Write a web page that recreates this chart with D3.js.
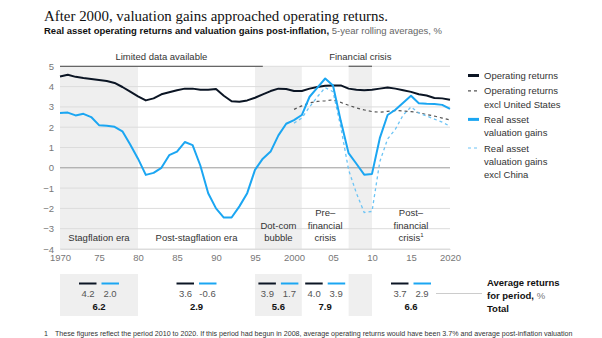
<!DOCTYPE html>
<html><head><meta charset="utf-8">
<script src="https://cdn.jsdelivr.net/npm/d3@7"></script>
<style>
body{margin:0;background:#fff;}
svg{display:block;font-family:"Liberation Sans",Arial,sans-serif;}
</style></head>
<body><svg id="c" width="602" height="338"></svg>
<script>
const years = d3.range(1970, 2021);
const operating = [4.5,4.58,4.48,4.42,4.38,4.33,4.28,4.18,3.98,3.75,3.52,3.32,3.42,3.62,3.72,3.82,3.9,3.9,3.85,3.84,3.88,3.55,3.28,3.25,3.32,3.45,3.62,3.78,3.9,3.88,3.78,3.78,3.9,3.98,4.04,4.05,4.06,3.9,3.85,3.82,3.84,3.9,3.96,3.9,3.82,3.74,3.62,3.56,3.44,3.42,3.35];
const valuation = [2.7,2.72,2.58,2.66,2.5,2.1,2.07,2.02,1.8,1.15,0.45,-0.35,-0.25,0.0,0.62,0.8,1.27,1.12,0.1,-1.25,-2.0,-2.45,-2.45,-1.9,-1.25,-0.1,0.45,0.8,1.6,2.17,2.35,2.6,3.5,3.95,4.4,4.05,2.3,0.72,0.2,-0.34,-0.3,1.46,2.6,2.86,3.2,3.55,3.18,3.15,3.14,3.1,2.9];
const yearsEx = d3.range(2000, 2021);
const operatingExUS = [2.88,3.05,3.2,3.27,3.3,3.35,3.22,3.08,2.95,2.85,2.77,2.74,2.78,2.82,2.8,2.77,2.72,2.62,2.55,2.45,2.36];
const valuationExChina = [2.2,2.45,3.0,3.5,3.95,3.75,2.0,-0.1,-1.25,-2.2,-2.15,0.3,1.42,1.9,2.6,3.0,2.7,2.55,2.4,2.25,2.05];

const xTicks = [1970,1975,1980,1985,1990,1995,2000,2005,2010,2015,2020];
const xTickLabels = ["1970","75","80","85","90","95","2000","05","10","15","2020"];
const yTicks = [5,4,3,2,1,0,-1,-2,-3,-4];

const bands = [[1970,1980],[1995,2001],[2007,2010]];
const brackets = [{label:"Limited data available", from:1970, to:1996},{label:"Financial crisis", from:2007, to:2010}];
const eras = [
  {lines:["Stagflation era"], from:1970, to:1980},
  {lines:["Post-stagflation era"], from:1980, to:1995},
  {lines:["Dot-com","bubble"], from:1995, to:2001},
  {lines:["Pre–","financial","crisis"], from:2001, to:2007},
  {lines:["Post–","financial","crisis"], from:2010, to:2020, sup:"1"}
];
const periodOperating = ["4.2","3.6","3.9","4.0","3.7"];
const periodValuation = ["2.0","-0.6","1.7","3.9","2.9"];
const periodTotal = ["6.2","2.9","5.6","7.9","6.6"];

const legendItems = [
  {lines:["Operating returns"], color:"#0b1524", w:3, dash:null},
  {lines:["Operating returns","excl United States"], color:"#555", w:1.2, dash:"3,3"},
  {lines:["Real asset","valuation gains"], color:"#1ba6f2", w:3, dash:null},
  {lines:["Real asset","valuation gains","excl China"], color:"#6cc4f5", w:1.2, dash:"3,3"}
];

const svg = d3.select("#c");
const x = d3.scaleLinear().domain([1970,2020]).range([60,450]);
const y = d3.scaleLinear().domain([-4,5]).range([249,66.3]);

// title
svg.append("text").attr("x",44).attr("y",20.5).attr("font-family","'Liberation Serif','Times New Roman',serif")
  .attr("font-size",14.9).attr("fill","#111").text("After 2000, valuation gains approached operating returns.");
const sub = svg.append("text").attr("x",44).attr("y",34).attr("font-size",9.5).attr("fill","#111");
sub.append("tspan").attr("font-weight","bold").text("Real asset operating returns and valuation gains post-inflation, ");
sub.append("tspan").attr("fill","#666").text("5-year rolling averages, %");

// bands
svg.append("g").selectAll("rect").data(bands).join("rect")
  .attr("x",d=>x(d[0])).attr("width",d=>x(d[1])-x(d[0]))
  .attr("y",y(5)).attr("height",y(-4)-y(5)).attr("fill","#efefef");

// grid
svg.append("g").selectAll("line").data(yTicks).join("line")
  .attr("x1",60).attr("x2",450).attr("y1",d=>y(d)).attr("y2",d=>y(d))
  .attr("stroke",d=>d===0?"#9a9a9a":"#dcdcdc").attr("stroke-width",1);

// y axis labels
const yAxis = d3.axisLeft(y).tickValues(yTicks).tickSize(0).tickPadding(6);
const ya = svg.append("g").attr("transform","translate(60,0)").call(yAxis);
ya.select(".domain").remove();
ya.selectAll("text").attr("font-size",9.5).attr("fill","#777").attr("font-family","'Liberation Sans',Arial,sans-serif");

// x axis
const xAxis = d3.axisBottom(x).tickValues(xTicks).tickFormat((d,i)=>xTickLabels[i]).tickSize(0).tickPadding(5);
const xa = svg.append("g").attr("transform",`translate(0,${y(-4)})`).call(xAxis);
xa.select(".domain").attr("stroke","#dcdcdc");
xa.selectAll("text").attr("font-size",9.5).attr("fill","#777").attr("font-family","'Liberation Sans',Arial,sans-serif");

// brackets
brackets.forEach(b=>{
  svg.append("line").attr("x1",x(b.from)).attr("x2",x(b.to)).attr("y1",y(5)).attr("y2",y(5))
    .attr("stroke","#666").attr("stroke-width",1.3);
  svg.append("text").attr("x",(x(b.from)+x(b.to))/2).attr("y",60).attr("text-anchor","middle")
    .attr("font-size",9.5).attr("fill","#333").text(b.label);
});

// era labels
eras.forEach(e=>{
  const cx = (x(e.from)+x(e.to))/2;
  const n = e.lines.length;
  e.lines.forEach((l,i)=>{
    const t = svg.append("text").attr("x",cx).attr("y",241 - (n-1-i)*12.3).attr("text-anchor","middle")
      .attr("font-size",9.5).attr("fill","#333").text(l);
    if(e.sup && i===n-1) t.append("tspan").attr("font-size",6).attr("dy",-4).text(e.sup);
  });
});

// lines
const line = (xs)=>d3.line().x((d,i)=>x(xs[i])).y(d=>y(d));
svg.append("path").datum(operatingExUS).attr("d",line(yearsEx)).attr("fill","none")
  .attr("stroke","#555").attr("stroke-width",1.2).attr("stroke-dasharray","3,3");
svg.append("path").datum(valuationExChina).attr("d",line(yearsEx)).attr("fill","none")
  .attr("stroke","#6cc4f5").attr("stroke-width",1.3).attr("stroke-dasharray","3,3");
svg.append("path").datum(operating).attr("d",line(years)).attr("fill","none")
  .attr("stroke","#0b1524").attr("stroke-width",2).attr("stroke-linejoin","round");
svg.append("path").datum(valuation).attr("d",line(years)).attr("fill","none")
  .attr("stroke","#1ba6f2").attr("stroke-width",2).attr("stroke-linejoin","round");

// legend
let ly = 79;
legendItems.forEach(it=>{
  svg.append("line").attr("x1",468).attr("x2",479).attr("y1",ly-3.5).attr("y2",ly-3.5)
    .attr("stroke",it.color).attr("stroke-width",it.w).attr("stroke-dasharray",it.dash);
  it.lines.forEach((l,i)=>{
    svg.append("text").attr("x",484).attr("y",ly+i*13.3).attr("font-size",9.5).attr("fill","#333").text(l);
  });
  ly += it.lines.length*13.3 + 2;
});

// bottom table
const periods = eras.map(e=>[e.from,e.to]);
svg.append("g").selectAll("rect").data(bands).join("rect")
  .attr("x",d=>x(d[0])).attr("width",d=>x(d[1])-x(d[0]))
  .attr("y",274).attr("height",42).attr("fill","#efefef");
periods.forEach((p,i)=>{
  const cx = (x(p[0])+x(p[1]))/2;
  svg.append("line").attr("x1",cx-20).attr("x2",cx-2.5).attr("y1",283.5).attr("y2",283.5).attr("stroke","#0b1524").attr("stroke-width",2);
  svg.append("line").attr("x1",cx+2.5).attr("x2",cx+20).attr("y1",283.5).attr("y2",283.5).attr("stroke","#1ba6f2").attr("stroke-width",2);
  svg.append("text").attr("x",cx-11).attr("y",296.5).attr("text-anchor","middle").attr("font-size",9.5).attr("fill","#555").text(periodOperating[i]);
  svg.append("text").attr("x",cx+11).attr("y",296.5).attr("text-anchor","middle").attr("font-size",9.5).attr("fill","#555").text(periodValuation[i]);
  svg.append("text").attr("x",cx).attr("y",310).attr("text-anchor","middle").attr("font-size",9.5).attr("font-weight","bold").attr("fill","#111").text(periodTotal[i]);
});
svg.append("line").attr("x1",436).attr("x2",482).attr("y1",293.5).attr("y2",293.5).attr("stroke","#ccc");
const tl = svg.append("g").attr("font-size",9.5).attr("font-weight","bold").attr("fill","#111");
tl.append("text").attr("x",487).attr("y",286).text("Average returns");
const t2 = tl.append("text").attr("x",487).attr("y",299).text("for period, ");
t2.append("tspan").attr("font-weight","normal").attr("fill","#777").text("%");
tl.append("text").attr("x",487).attr("y",312).text("Total");

// footnote
svg.append("text").attr("x",44).attr("y",335.5).attr("font-size",7.1).attr("fill","#333")
  .text("1\u2003These figures reflect the period 2010 to 2020. If this period had begun in 2008, average operating returns would have been 3.7% and average post-inflation valuation");
</script></body></html>
